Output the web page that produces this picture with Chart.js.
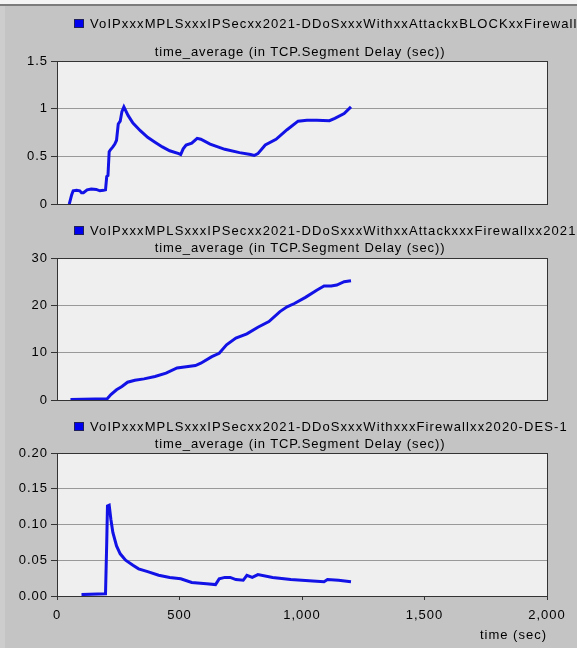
<!DOCTYPE html>
<html>
<head>
<meta charset="utf-8">
<script src="https://cdn.jsdelivr.net/npm/chart.js@4.4.1/dist/chart.umd.min.js"></script>
<style>
  body { margin: 0; width: 577px; height: 648px; overflow: hidden; background: #c4c4c4; font-family: "Liberation Sans", Arial, sans-serif; }
  #page { position: relative; width: 577px; height: 648px; }
  .topline { position: absolute; left: 0; top: 0; width: 577px; height: 4px; background: #f4f4f4; border-bottom: 2px solid #7c7c7c; }
  .leftline { position: absolute; left: 0; top: 6px; width: 5px; height: 642px; background: #cdcdcd; }
  .box { position: absolute; left: 0; width: 577px; }
  .box canvas { position: absolute; left: 0; top: 0; }
  .legend { position: absolute; left: 74px; white-space: nowrap; font-size: 13px; line-height: 15px; letter-spacing: 1.1px; color: #000; }
  .legend i { display: inline-block; width: 8px; height: 7px; background: #0000f0; border: 1px solid #20205a; margin-right: 6px; vertical-align: 0px; }
  .ttl { position: absolute; left: 55px; width: 490px; text-align: center; font-size: 13px; line-height: 15px; letter-spacing: 0.9px; color: #000; white-space: nowrap; }
</style>
</head>
<body>
<div id="page">
  <div class="topline"></div>
  <div class="leftline"></div>

  <div class="box" style="top:0;height:215px"><canvas id="c1" width="577" height="215"></canvas></div>
  <div class="legend" style="top:16px"><i></i>VoIPxxxMPLSxxxIPSecxx2021-DDoSxxxWithxxAttackxBLOCKxxFirewall</div>
  <div class="ttl" style="top:44px">time_average (in TCP.Segment Delay (sec))</div>

  <div class="box" style="top:213px;height:198px"><canvas id="c2" width="577" height="198"></canvas></div>
  <div class="legend" style="top:223px"><i></i>VoIPxxxMPLSxxxIPSecxx2021-DDoSxxxWithxxAttackxxxFirewallxx2021</div>
  <div class="ttl" style="top:240px">time_average (in TCP.Segment Delay (sec))</div>

  <div class="box" style="top:406px;height:242px"><canvas id="c3" width="577" height="242"></canvas></div>
  <div class="legend" style="top:419px"><i></i>VoIPxxxMPLSxxxIPSecxx2021-DDoSxxxWithxxxFirewallxx2020-DES-1</div>
  <div class="ttl" style="top:436px">time_average (in TCP.Segment Delay (sec))</div>
</div>

<script>
// ---- data (time in sec, delay in sec) ----
const t_block = [50, 60, 66, 80, 93, 100, 108, 123, 140, 160, 175, 190, 198, 203, 208, 213, 218, 228, 236, 243, 250, 258, 265, 273, 290, 310, 340, 370, 400, 430, 460, 497, 505, 515, 527, 550, 572, 587, 625, 685, 745, 790, 805, 820, 850, 894, 939, 984, 1020, 1060, 1112, 1134, 1172, 1200];
const v_block = [0, 0.1, 0.14, 0.145, 0.14, 0.12, 0.12, 0.15, 0.16, 0.155, 0.14, 0.145, 0.15, 0.29, 0.3, 0.55, 0.57, 0.6, 0.63, 0.67, 0.84, 0.87, 0.97, 1.02, 0.93, 0.85, 0.77, 0.7, 0.65, 0.6, 0.56, 0.53, 0.52, 0.58, 0.62, 0.64, 0.69, 0.68, 0.63, 0.575, 0.54, 0.52, 0.51, 0.53, 0.62, 0.68, 0.78, 0.87, 0.88, 0.88, 0.875, 0.9, 0.95, 1.02];

const t_fw2021 = [55, 205, 220, 243, 265, 288, 318, 355, 400, 445, 490, 520, 565, 587, 632, 662, 692, 730, 775, 820, 865, 910, 939, 969, 1014, 1060, 1090, 1119, 1142, 1172, 1200];
const v_fw2021 = [0.15, 0.3, 1.2, 2.2, 2.9, 3.8, 4.2, 4.5, 5.0, 5.7, 6.8, 7.0, 7.3, 7.8, 9.2, 9.9, 11.7, 13.1, 14.0, 15.4, 16.6, 18.7, 19.7, 20.4, 21.7, 23.2, 24.1, 24.1, 24.3, 25.0, 25.2];

const t_des = [100, 198, 203, 206, 213, 220, 228, 243, 258, 280, 310, 333, 370, 415, 460, 505, 550, 610, 647, 662, 685, 707, 730, 760, 775, 797, 820, 880, 954, 1044, 1090, 1104, 1149, 1200];
const v_des = [0.002, 0.003, 0.075, 0.126, 0.127, 0.107, 0.089, 0.07, 0.059, 0.05, 0.043, 0.038, 0.034, 0.029, 0.026, 0.024, 0.019, 0.017, 0.016, 0.024, 0.026, 0.026, 0.023, 0.022, 0.029, 0.026, 0.03, 0.026, 0.023, 0.021, 0.02, 0.023, 0.022, 0.02];

const x_ticks = [0, 500, 1000, 1500, 2000];

function pts(ts, vs) {
    return ts.map(function (t, i) { return { x: t, y: vs[i] }; });
}

// plot background + frame, wider glyph spacing like the original
const framePlugin = {
    id: 'frame',
    beforeInit(chart) {
        chart.ctx.letterSpacing = '1px';
    },
    beforeDraw(chart) {
        const a = chart.chartArea, ctx = chart.ctx;
        ctx.letterSpacing = '1px';
        ctx.save();
        ctx.fillStyle = '#efefef';
        ctx.fillRect(a.left, a.top, a.right - a.left, a.bottom - a.top);
        ctx.restore();
    },
    afterDraw(chart) {
        const a = chart.chartArea, ctx = chart.ctx;
        ctx.save();
        ctx.strokeStyle = '#333';
        ctx.lineWidth = 1;
        ctx.strokeRect(Math.round(a.left) + 0.5, Math.round(a.top) + 0.5, Math.round(a.right - a.left), Math.round(a.bottom - a.top));
        ctx.restore();
    }
};

function makeChart(id, ts, vs, ymax, ystep, fmt, showX, padTop, padBottom) {
    return new Chart(document.getElementById(id), {
        type: 'line',
        data: {
            datasets: [{
                data: pts(ts, vs),
                borderColor: 'rgb(18,18,230)',
                borderWidth: 3,
                pointRadius: 0,
                tension: 0
            }]
        },
        options: {
            responsive: false,
            animation: false,
            devicePixelRatio: 1,
            layout: { padding: { top: padTop, right: 30, bottom: padBottom, left: 0 } },
            plugins: { legend: { display: false }, tooltip: { enabled: false } },
            scales: {
                x: {
                    type: 'linear', min: 0, max: 2000,
                    afterBuildTicks(s) { s.ticks = x_ticks.map(function (v) { return { value: v }; }); },
                    grid: { display: showX, drawOnChartArea: false, drawTicks: showX, tickLength: 4, tickColor: '#333' },
                    border: { display: true, color: '#333' },
                    ticks: {
                        display: showX, padding: 8, color: '#000',
                        font: { family: 'Liberation Sans', size: 13 },
                        maxRotation: 0,
                        callback(v) { return v.toLocaleString('en-US'); }
                    },
                    title: {
                        display: showX, text: 'time (sec)', align: 'end', color: '#000',
                        font: { family: 'Liberation Sans', size: 13 },
                        padding: { top: 0, bottom: 5 }
                    },
                    afterFit(s) { s.height = showX ? 52 : 0; }
                },
                y: {
                    min: 0, max: ymax,
                    ticks: {
                        stepSize: ystep, padding: 3, color: '#000',
                        font: { family: 'Liberation Sans', size: 13 },
                        callback: fmt
                    },
                    grid: { color: '#999', tickColor: '#333', tickLength: 6, lineWidth: 1 },
                    border: { display: true, color: '#333' },
                    afterFit(s) { s.width = 57; }
                }
            }
        },
        plugins: [framePlugin]
    });
}

makeChart('c1', t_block, v_block, 1.5, 0.5, function (v) { return String(Math.round(v * 10) / 10); }, false, 61, 9);
makeChart('c2', t_fw2021, v_fw2021, 30, 10, function (v) { return String(v); }, false, 45, 8);
makeChart('c3', t_des, v_des, 0.2, 0.05, function (v) { return v.toFixed(2); }, true, 47, 0);
</script>
</body>
</html>
